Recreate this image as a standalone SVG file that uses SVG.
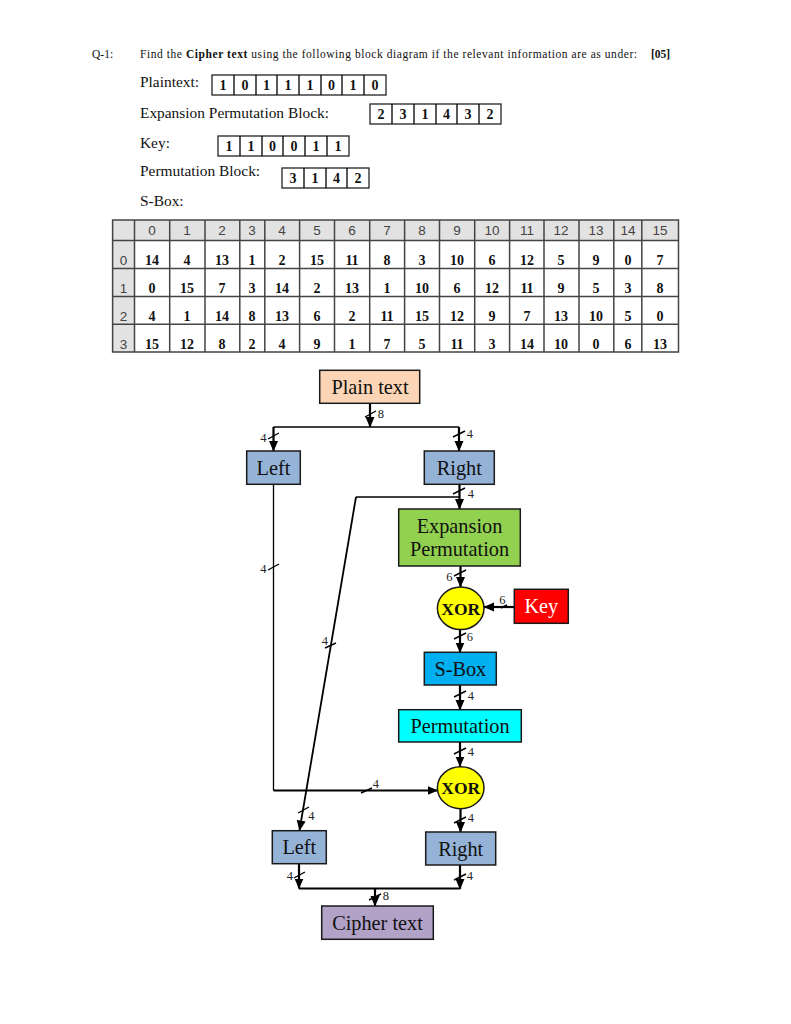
<svg xmlns="http://www.w3.org/2000/svg" width="791" height="1024" viewBox="0 0 791 1024">
<defs>
<marker id="arrow" markerUnits="userSpaceOnUse" markerWidth="11" markerHeight="10" refX="10" refY="5" orient="auto"><polygon points="0,0.5 10.5,5 0,9.5" fill="#000"/></marker>
</defs>
<style>
text{font-family:"Liberation Serif","Times New Roman",serif;fill:#111}
.t{font-size:11.5px}
.l{font-size:15.4px}
.b{font-size:14px;font-weight:bold;text-anchor:middle}
.c{fill:#fff;stroke:#222;stroke-width:1.3}
.h{font-family:"Liberation Sans",Arial,sans-serif;font-size:13.5px;text-anchor:middle;fill:#444}
.v{font-size:14px;font-weight:bold;text-anchor:middle}
.n{stroke:#1a1a1a;stroke-width:1.5}
.x{font-size:20.3px;text-anchor:middle}
.w{fill:#fff}
.o{font-size:17.5px;font-weight:bold;text-anchor:middle}
.k{fill:none;stroke:#000;stroke-width:1.3}
.a{fill:none;stroke:#000;stroke-width:2.2;marker-end:url(#arrow)}
.s{fill:none;stroke:#000;stroke-width:1.4}
.m{font-size:12.5px;text-anchor:middle;fill:#222;letter-spacing:.2px}
</style>
<rect width="791" height="1024" fill="#fff"/>
<g id="question">
<text class="t" x="92" y="58">Q-1:</text>
<text class="t" x="140" y="58" textLength="497" lengthAdjust="spacing">Find the <tspan font-weight="bold">Cipher text</tspan> using the following block diagram if the relevant information are as under:</text>
<text class="t" x="651" y="58" font-weight="bold">[05]</text>
<text class="l" x="140" y="87">Plaintext:</text>
<text class="l" x="140" y="118">Expansion Permutation Block:</text>
<text class="l" x="140" y="148">Key:</text>
<text class="l" x="140" y="176">Permutation Block:</text>
<text class="l" x="140" y="206">S-Box:</text>
</g>
<g id="plaintext-block">
<rect class="c" x="212" y="75" width="174" height="20"/>
<path class="k" d="M234 75V95M256 75V95M277 75V95M299 75V95M321 75V95M342 75V95M364 75V95"/>
<text class="b" x="223" y="90">1</text><text class="b" x="245" y="90">0</text><text class="b" x="266.500" y="90">1</text><text class="b" x="288" y="90">1</text><text class="b" x="310" y="90">1</text><text class="b" x="331.500" y="90">0</text><text class="b" x="353" y="90">1</text><text class="b" x="375" y="90">0</text>
</g>
<g id="expansion-block">
<rect class="c" x="370" y="104" width="131" height="20"/>
<path class="k" d="M392 104V124M414 104V124M436 104V124M457 104V124M479 104V124"/>
<text class="b" x="381" y="119">2</text><text class="b" x="403" y="119">3</text><text class="b" x="425" y="119">1</text><text class="b" x="446.500" y="119">4</text><text class="b" x="468" y="119">3</text><text class="b" x="490" y="119">2</text>
</g>
<g id="key-block">
<rect class="c" x="218" y="136" width="131" height="20"/>
<path class="k" d="M240 136V156M262 136V156M283 136V156M305 136V156M327 136V156"/>
<text class="b" x="229" y="151">1</text><text class="b" x="251" y="151">1</text><text class="b" x="272.500" y="151">0</text><text class="b" x="294" y="151">0</text><text class="b" x="316" y="151">1</text><text class="b" x="338" y="151">1</text>
</g>
<g id="permutation-block">
<rect class="c" x="282" y="168" width="87" height="20"/>
<path class="k" d="M304 168V188M326 168V188M347 168V188"/>
<text class="b" x="293" y="183">3</text><text class="b" x="315" y="183">1</text><text class="b" x="336.500" y="183">4</text><text class="b" x="358" y="183">2</text>
</g>
<g id="s-box-table">
<rect x="112.600" y="220" width="565.900" height="20.500" fill="#e2e2e2"/>
<rect x="112.600" y="240.500" width="21.900" height="111.500" fill="#e2e2e2"/>
<path fill="none" stroke="#444" stroke-width="1.5" d="M112.600 220H678.500V352H112.600ZM112.600 240.500H678.500M112.600 268.500H678.500M112.600 296.500H678.500M112.600 324.300H678.500M134.500 220V352M169.700 220V352M205 220V352M239.800 220V352M264.800 220V352M299.600 220V352M334.500 220V352M369.700 220V352M404.600 220V352M439.500 220V352M474.700 220V352M509.600 220V352M544 220V352M579 220V352M613.800 220V352M641.800 220V352"/>
<text class="h" x="152" y="235">0</text><text class="h" x="187" y="235">1</text><text class="h" x="222" y="235">2</text><text class="h" x="252" y="235">3</text><text class="h" x="282" y="235">4</text><text class="h" x="317" y="235">5</text><text class="h" x="352" y="235">6</text><text class="h" x="387" y="235">7</text><text class="h" x="422" y="235">8</text><text class="h" x="457" y="235">9</text><text class="h" x="492" y="235">10</text><text class="h" x="527" y="235">11</text><text class="h" x="561" y="235">12</text><text class="h" x="596" y="235">13</text><text class="h" x="628" y="235">14</text><text class="h" x="660" y="235">15</text>
<text class="h" x="123.500" y="265">0</text><text class="h" x="123.500" y="293">1</text><text class="h" x="123.500" y="321">2</text><text class="h" x="123.500" y="349">3</text>
<text class="v" x="152" y="265">14</text><text class="v" x="187" y="265">4</text><text class="v" x="222" y="265">13</text><text class="v" x="252" y="265">1</text><text class="v" x="282" y="265">2</text><text class="v" x="317" y="265">15</text><text class="v" x="352" y="265">11</text><text class="v" x="387" y="265">8</text><text class="v" x="422" y="265">3</text><text class="v" x="457" y="265">10</text><text class="v" x="492" y="265">6</text><text class="v" x="527" y="265">12</text><text class="v" x="561" y="265">5</text><text class="v" x="596" y="265">9</text><text class="v" x="628" y="265">0</text><text class="v" x="660" y="265">7</text>
<text class="v" x="152" y="293">0</text><text class="v" x="187" y="293">15</text><text class="v" x="222" y="293">7</text><text class="v" x="252" y="293">3</text><text class="v" x="282" y="293">14</text><text class="v" x="317" y="293">2</text><text class="v" x="352" y="293">13</text><text class="v" x="387" y="293">1</text><text class="v" x="422" y="293">10</text><text class="v" x="457" y="293">6</text><text class="v" x="492" y="293">12</text><text class="v" x="527" y="293">11</text><text class="v" x="561" y="293">9</text><text class="v" x="596" y="293">5</text><text class="v" x="628" y="293">3</text><text class="v" x="660" y="293">8</text>
<text class="v" x="152" y="321">4</text><text class="v" x="187" y="321">1</text><text class="v" x="222" y="321">14</text><text class="v" x="252" y="321">8</text><text class="v" x="282" y="321">13</text><text class="v" x="317" y="321">6</text><text class="v" x="352" y="321">2</text><text class="v" x="387" y="321">11</text><text class="v" x="422" y="321">15</text><text class="v" x="457" y="321">12</text><text class="v" x="492" y="321">9</text><text class="v" x="527" y="321">7</text><text class="v" x="561" y="321">13</text><text class="v" x="596" y="321">10</text><text class="v" x="628" y="321">5</text><text class="v" x="660" y="321">0</text>
<text class="v" x="152" y="349">15</text><text class="v" x="187" y="349">12</text><text class="v" x="222" y="349">8</text><text class="v" x="252" y="349">2</text><text class="v" x="282" y="349">4</text><text class="v" x="317" y="349">9</text><text class="v" x="352" y="349">1</text><text class="v" x="387" y="349">7</text><text class="v" x="422" y="349">5</text><text class="v" x="457" y="349">11</text><text class="v" x="492" y="349">3</text><text class="v" x="527" y="349">14</text><text class="v" x="561" y="349">10</text><text class="v" x="596" y="349">0</text><text class="v" x="628" y="349">6</text><text class="v" x="660" y="349">13</text>
</g>
<g id="connectors">
<path class="a" d="M370 403V427"/>
<path class="k" d="M273.500 427H459"/>
<path class="a" d="M273.500 427V451"/>
<path class="a" d="M459 427V451"/>
<path class="k" d="M273.500 484V790.500"/>
<path class="a" d="M273.500 790.500H437.500"/>
<path class="a" d="M459.500 484V509"/>
<path class="s" d="M459.500 497H356"/>
<path class="a" style="stroke-width:1.8" d="M356 497L299.500 830.500"/>
<path class="a" d="M460.500 566V587"/>
<path class="a" d="M514.500 607H484"/>
<path class="a" d="M460 629.500V652.500"/>
<path class="a" d="M460 685V710"/>
<path class="a" d="M460 742V766.500"/>
<path class="a" d="M460.500 809V832"/>
<path class="a" d="M299 864V888.500"/>
<path class="a" d="M460 865V889"/>
<path class="s" d="M299 888.500H460" style="stroke-width:1.8"/>
<path class="a" d="M375 888.500V906"/>
<path class="s" d="M365 417L376 411M268 439L279 433M453 437L465 431M453 494L465 488M268 570L279 564M325 648L336 643M454 576L466 570M501 608L507 605M454 639L466 633M454 697L466 691M454 754L466 748M361 793L372 788M298 813L309 807M454 823L466 817M294 878L305 872M454 880L466 874M369 900L381 894"/>
<text class="m" x="381" y="417.500">8</text>
<text class="m" x="263.500" y="442">4</text>
<text class="m" x="470" y="437.500">4</text>
<text class="m" x="471" y="497.500">4</text>
<text class="m" x="263.500" y="572.500">4</text>
<text class="m" x="325" y="644.500">4</text>
<text class="m" x="449.500" y="581">6</text>
<text class="m" x="502.500" y="603.500">6</text>
<text class="m" x="470" y="641">6</text>
<text class="m" x="471" y="699.500">4</text>
<text class="m" x="471" y="756">4</text>
<text class="m" x="376" y="788">4</text>
<text class="m" x="311.500" y="820">4</text>
<text class="m" x="471" y="822">4</text>
<text class="m" x="290" y="880">4</text>
<text class="m" x="470" y="880">4</text>
<text class="m" x="386" y="900">8</text>
</g>
<g id="plain-text"><rect class="n" x="319.700" y="370.300" width="100" height="33" fill="#fbd5b5"/><text class="x" x="370" y="394">Plain text</text></g>
<g id="left-top"><rect class="n" x="246.700" y="451" width="53.600" height="33.300" fill="#95b3d7"/><text class="x" x="273.500" y="475">Left</text></g>
<g id="right-top"><rect class="n" x="424.300" y="451" width="70" height="33.300" fill="#95b3d7"/><text class="x" x="459.300" y="475">Right</text></g>
<g id="expansion-permutation"><rect class="n" x="398.700" y="509" width="121.600" height="57" fill="#92d050"/><text class="x" x="459.500" y="533">Expansion</text><text class="x" x="459.500" y="556">Permutation</text></g>
<g id="xor-1"><ellipse class="n" cx="460.700" cy="608.300" rx="23.300" ry="21.300" fill="#ffff00"/><text class="o" x="460.700" y="614.500">XOR</text></g>
<g id="key"><rect class="n" x="514.300" y="589.300" width="54" height="34" fill="#ff0000"/><text class="x w" x="541.300" y="613">Key</text></g>
<g id="s-box"><rect class="n" x="424.300" y="652.300" width="72" height="32.700" fill="#00b0f0"/><text class="x" x="460.300" y="676">S-Box</text></g>
<g id="permutation"><rect class="n" x="398.700" y="709.700" width="122.600" height="32.300" fill="#00ffff"/><text class="x" x="460" y="733">Permutation</text></g>
<g id="xor-2"><ellipse class="n" cx="460.700" cy="787.700" rx="23.300" ry="21" fill="#ffff00"/><text class="o" x="460.700" y="793.500">XOR</text></g>
<g id="left-bottom"><rect class="n" x="272.300" y="830.700" width="54" height="33" fill="#95b3d7"/><text class="x" x="299.300" y="854">Left</text></g>
<g id="right-bottom"><rect class="n" x="425.700" y="832" width="70" height="33" fill="#95b3d7"/><text class="x" x="460.700" y="856">Right</text></g>
<g id="cipher-text"><rect class="n" x="321.700" y="906" width="111.600" height="33.300" fill="#b2a2c7"/><text class="x" x="377.500" y="930">Cipher text</text></g>
</svg>
